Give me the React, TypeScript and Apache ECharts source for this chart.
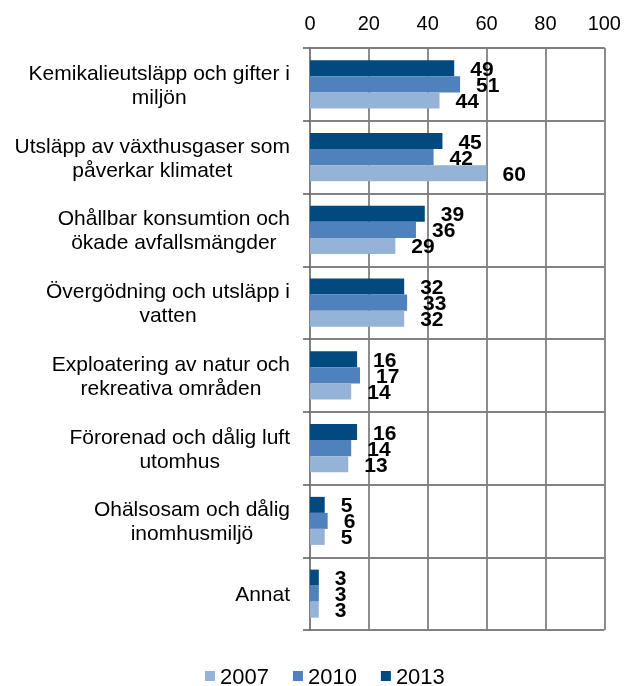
import React, { useEffect, useRef } from "react";
import * as echarts from "echarts";

const categories = [
  "Kemikalieutsläpp och gifter i\nmiljön",
  "Utsläpp av växthusgaser som\npåverkar klimatet",
  "Ohållbar konsumtion och\nökade avfallsmängder",
  "Övergödning och utsläpp i\nvatten",
  "Exploatering av natur och\nrekreativa områden",
  "Förorenad och dålig luft\nutomhus",
  "Ohälsosam och dålig\ninomhusmiljö",
  "Annat",
];
const values2013 = [49, 45, 39, 32, 16, 16, 5, 3];
const values2010 = [51, 42, 36, 33, 17, 14, 6, 3];
const values2007 = [44, 60, 29, 32, 14, 13, 5, 3];
const xTicks = [0, 20, 40, 60, 80, 100];

const FONT = "'Liberation Sans', Arial, sans-serif";

export default function App() {
  const ref = useRef<HTMLDivElement>(null);
  useEffect(() => {
    if (!ref.current) return;
    const chart = echarts.init(ref.current, undefined, { renderer: "svg" });
    const label = {
      show: true,
      position: "right" as const,
      distance: 16,
      color: "#000",
      fontWeight: "bold" as const,
      fontSize: 21,
      fontFamily: FONT,
    };
    chart.setOption({
      animation: false,
      textStyle: { fontFamily: FONT },
      grid: { left: 310, right: 19, top: 48, bottom: 56, containLabel: false },
      legend: {
        data: ["2007", "2010", "2013"],
        top: 665,
        left: 205,
        padding: 0,
        icon: "rect",
        itemWidth: 10,
        itemHeight: 10,
        itemGap: 24,
        textStyle: { fontSize: 22, color: "#000", fontFamily: FONT },
      },
      xAxis: {
        type: "value",
        position: "top",
        min: xTicks[0],
        max: xTicks[xTicks.length - 1],
        interval: 20,
        axisLine: { show: true, lineStyle: { color: "#7f7f7f", width: 1.5 } },
        axisTick: { show: false },
        axisLabel: { fontSize: 20, color: "#000", margin: 15, fontFamily: FONT },
        splitLine: { show: true, lineStyle: { color: "#7f7f7f", width: 1.8 } },
      },
      yAxis: {
        type: "category",
        inverse: true,
        data: categories,
        axisLine: { show: true, lineStyle: { color: "#7f7f7f", width: 1.8 } },
        axisTick: { show: true, length: 7, lineStyle: { color: "#595959", width: 1.5 } },
        axisLabel: {
          color: "#000",
          align: "right",
          margin: 20,
          fontFamily: FONT,
          formatter: (v: string) =>
            v
              .split("\n")
              .map((line) => `{c|${line}}`)
              .join("\n"),
          rich: {
            c: {
              align: "center",
              fontSize: 21,
              lineHeight: 24,
              color: "#000",
              fontFamily: FONT,
            },
          },
        },
        splitLine: { show: true, lineStyle: { color: "#595959", width: 1.5 } },
      },
      series: [
        {
          name: "2013",
          type: "bar",
          data: values2013,
          itemStyle: { color: "#004A7F" },
          label,
          barGap: "0%",
          barCategoryGap: "34%",
        },
        {
          name: "2010",
          type: "bar",
          data: values2010,
          itemStyle: { color: "#4F81BD" },
          label,
        },
        {
          name: "2007",
          type: "bar",
          data: values2007,
          itemStyle: { color: "#95B3D7" },
          label,
        },
      ],
    });
    return () => chart.dispose();
  }, []);
  return (
    <div
      ref={ref}
      style={{ position: "fixed", left: 0, top: 0, width: 624, height: 686 }}
    />
  );
}
